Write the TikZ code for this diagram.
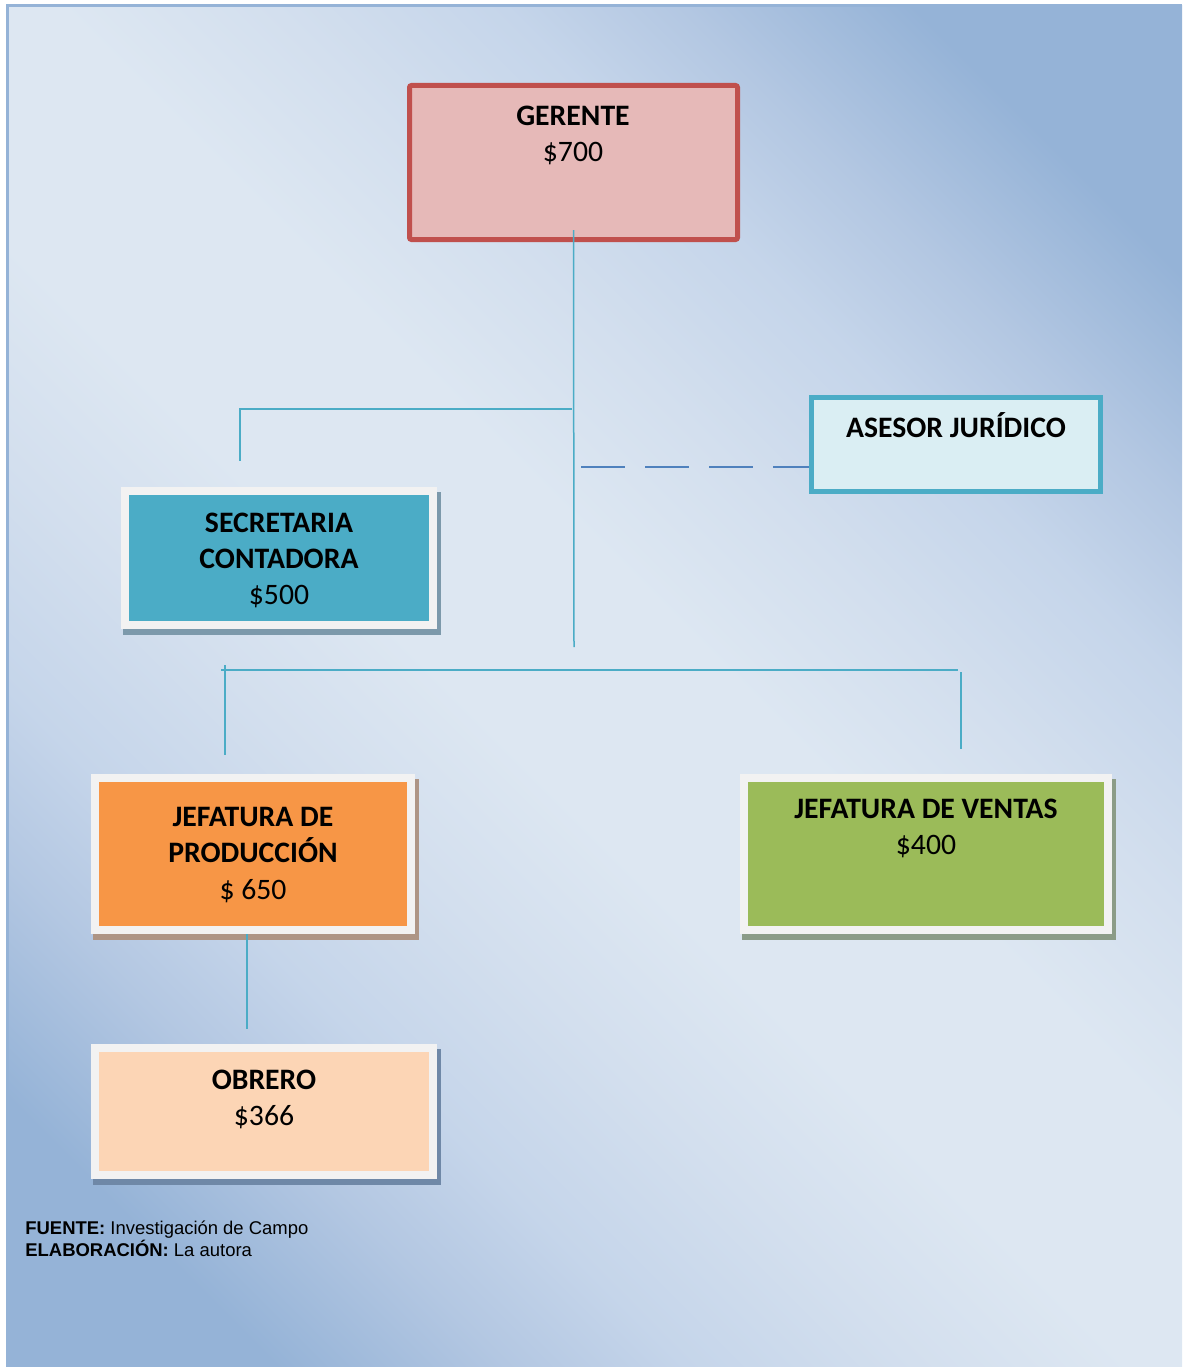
\documentclass[tikz,border=0pt]{standalone}
\usepackage{fontspec}
\setmainfont{Carlito}
\newfontfamily\notefont{Liberation Sans}
\usetikzlibrary{positioning,backgrounds}

\definecolor{bgdark}{HTML}{95B3D7}
\definecolor{bgmidA}{HTML}{B3C7E2}
\definecolor{bgmidB}{HTML}{C5D5EA}
\definecolor{bgmidC}{HTML}{D3DFEE}
\definecolor{bglight}{HTML}{DDE7F2}
\definecolor{framegray}{HTML}{F2F2F2}
\definecolor{gerline}{HTML}{C0504D}
\definecolor{gerfill}{HTML}{E6B9B8}
\definecolor{teal}{HTML}{4BACC6}
\definecolor{asefill}{HTML}{DAEEF3}
\definecolor{prodfill}{HTML}{F79646}
\definecolor{venfill}{HTML}{9BBB59}
\definecolor{obrfill}{HTML}{FCD5B5}
\definecolor{dashblue}{HTML}{4F81BD}
\definecolor{secshade}{HTML}{7C99AB}
\definecolor{prodshade}{HTML}{AE9585}
\definecolor{venshade}{HTML}{8C9C87}
\definecolor{obrshade}{HTML}{6F88A7}

% fondo: claro en la diagonal, oscuro en dos esquinas
\pgfdeclareverticalshading{backdrop}{100bp}{color(0bp)=(bgdark); color(22bp)=(bgdark);
  color(28.5bp)=(bgmidA); color(33.5bp)=(bgmidB); color(40bp)=(bgmidC); color(46bp)=(bglight);
  color(54bp)=(bglight); color(60bp)=(bgmidC); color(66.5bp)=(bgmidB); color(71.5bp)=(bgmidA);
  color(78bp)=(bgdark); color(100bp)=(bgdark)}

\begin{document}
\begin{tikzpicture}[x=0.2mm, y=-0.2mm,
    box/.style={rectangle, draw=framegray, line width=1.6mm, inner sep=0pt},
    txt/.style={align=center, inner sep=0pt, font=\fontsize{16.9}{20.5}\selectfont},
    link/.style={draw=teal, line width=0.3mm},
    dashlink/.style={draw=dashblue, line width=0.4mm, dash pattern=on 8.8mm off 4mm}]
    \useasboundingbox (0,0) rectangle (1182,1367);

    % cajas
    \node[box, draw=gerline, fill=gerfill, line width=1mm, rounded corners=0.4mm,
          minimum width=65.6mm, minimum height=30.8mm] (ger) at (573.5,162.5) {};
    \node[box, fill=teal, minimum width=61.6mm, minimum height=26.8mm] (sec) at (279,558) {};
    \node[box, draw=teal, fill=asefill, line width=1mm,
          minimum width=57.8mm, minimum height=18.8mm] (ase) at (956,444.5) {};
    \node[box, fill=prodfill, minimum width=63.2mm, minimum height=30.4mm] (prod) at (253,854) {};
    \node[box, fill=venfill, minimum width=72.8mm, minimum height=30.4mm] (ven) at (926,854) {};
    \node[box, fill=obrfill, minimum width=67.6mm, minimum height=25.4mm] (obr) at (264,1111.5) {};

    % textos
    \node[txt] (gerT) at (573,135) {\textbf{GERENTE}\\\$700};
    \node[txt] (secT) at (279,560) {\textbf{SECRETARIA}\\\textbf{CONTADORA}\\\$500};
    \node[txt, anchor=base] (aseT) at (956,437.5) {\textbf{ASESOR JURÍDICO}};
    \node[txt] (prodT) at (253,855) {\textbf{JEFATURA DE}\\\textbf{PRODUCCIÓN}\\\$ 650};
    \node[txt] (venT) at (926,828) {\textbf{JEFATURA DE VENTAS}\\\$400};
    \node[txt] (obrT) at (264,1099) {\textbf{OBRERO}\\\$366};

    % lineas
    \coordinate (t1) at (574,647);
    \coordinate (sj) at (572,409);
    \coordinate (sd) at (240,461);
    \coordinate (dj) at (581,467);
    \coordinate (hl) at (221,670);
    \coordinate (hr) at (958,670);
    \coordinate (pj) at (225,665);
    \coordinate (pd) at (225,755);
    \coordinate (vj) at (961,672);
    \coordinate (vd) at (961,749);
    \coordinate (od) at (247,1029);
    \draw[link] ([yshift=2.4mm]ger.south) -- (t1);
    \draw[link] (sj) -| (sd);
    \draw[dashlink] (dj) -- (dj -| ase.west);
    \draw[link] (hl) -- (hr);
    \draw[link] (pj) -- (pd);
    \draw[link] (vj) -- (vd);
    \draw[link] (od |- prod.south) -- (od);

    % fuente
    \node[anchor=north west, align=left, inner sep=0pt,
          font=\notefont\fontsize{10.5}{12}\selectfont] (nota) at (25,1221)
        {\textbf{FUENTE:} Investigación de Campo\\\textbf{ELABORACIÓN:} La autora};

    % fondo y sombras
    \begin{scope}[on background layer]
        \shade[shading=backdrop, shading angle=-45] (7,5) rectangle (1182,1367);
        \draw[bgdark, line width=0.6mm] (7,1367) -- (7,5) -- (1182,5);
        \foreach \b/\s in {sec/secshade, prod/prodshade, ven/venshade, obr/obrshade}
            \fill[\s] ([xshift=0.4mm,yshift=-1.2mm]\b.south west) rectangle ([xshift=0.8mm,yshift=-1mm]\b.north east);
    \end{scope}
\end{tikzpicture}
\end{document}
